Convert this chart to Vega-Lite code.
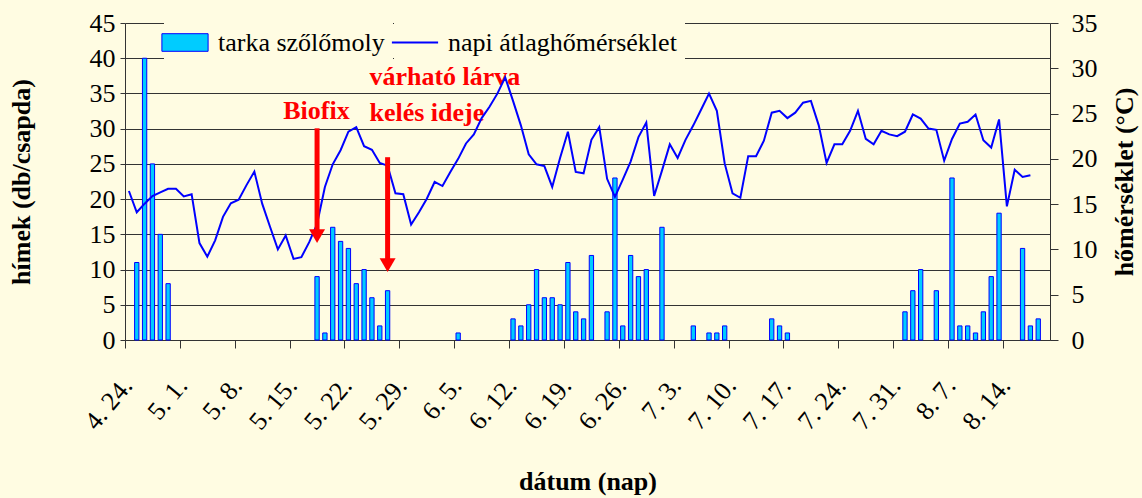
{
  "$schema": "https://vega.github.io/schema/vega-lite/v6.json",
  "width": 925,
  "height": 317,
  "autosize": {"type": "none"},
  "padding": {"left": 125, "top": 23, "right": 92, "bottom": 158},
  "background": "#fffce2",
  "config": {
    "font": "Liberation Serif",
    "view": {"stroke": null},
    "axis": {
      "labelFont": "Liberation Serif",
      "labelFontSize": 26,
      "labelColor": "#000000",
      "titleFont": "Liberation Serif",
      "titleFontSize": 26,
      "titleFontWeight": "bold",
      "titleColor": "#000000",
      "domainColor": "#333333",
      "tickColor": "#333333",
      "gridColor": "#333333",
      "gridOpacity": 1
    },
    "legend": {
      "orient": "none",
      "direction": "horizontal",
      "padding": 8,
      "fillColor": "#fffce2",
      "symbolSize": 484,
      "labelOffset": 20,
      "labelLimit": 0,
      "labelFont": "Liberation Serif",
      "labelFontSize": 26,
      "labelColor": "#000000"
    }
  },
  "datasets": {
    "main": [
      {"nap": "4. 24.", "t": 16.45},
      {"nap": "4. 25.", "h": 11, "t": 14.1},
      {"nap": "4. 26.", "h": 40, "t": 15.05},
      {"nap": "4. 27.", "h": 25, "t": 15.9},
      {"nap": "4. 28.", "h": 15, "t": 16.3},
      {"nap": "4. 29.", "h": 8, "t": 16.7},
      {"nap": "4. 30.", "t": 16.7},
      {"nap": "5. 1.", "t": 15.85},
      {"nap": "5. 2.", "t": 16.1},
      {"nap": "5. 3.", "t": 10.7},
      {"nap": "5. 4.", "t": 9.2},
      {"nap": "5. 5.", "t": 11.0},
      {"nap": "5. 6.", "t": 13.6},
      {"nap": "5. 7.", "t": 15.1},
      {"nap": "5. 8.", "t": 15.5},
      {"nap": "5. 9.", "t": 17.1},
      {"nap": "5. 10.", "t": 18.6},
      {"nap": "5. 11.", "t": 15.05},
      {"nap": "5. 12.", "t": 12.5},
      {"nap": "5. 13.", "t": 10.0},
      {"nap": "5. 14.", "t": 11.55},
      {"nap": "5. 15.", "t": 8.95},
      {"nap": "5. 16.", "t": 9.15},
      {"nap": "5. 17.", "t": 10.8},
      {"nap": "5. 18.", "h": 9, "t": 12.8},
      {"nap": "5. 19.", "h": 1, "t": 16.9},
      {"nap": "5. 20.", "h": 16, "t": 19.4},
      {"nap": "5. 21.", "h": 14, "t": 20.95},
      {"nap": "5. 22.", "h": 13, "t": 23.0},
      {"nap": "5. 23.", "h": 8, "t": 23.5},
      {"nap": "5. 24.", "h": 10, "t": 21.4},
      {"nap": "5. 25.", "h": 6, "t": 21.0},
      {"nap": "5. 26.", "h": 2, "t": 19.55},
      {"nap": "5. 27.", "h": 7, "t": 19.25},
      {"nap": "5. 28.", "t": 16.2},
      {"nap": "5. 29.", "t": 16.1},
      {"nap": "5. 30.", "t": 12.75},
      {"nap": "5. 31.", "t": 14.1},
      {"nap": "6. 1.", "t": 15.6},
      {"nap": "6. 2.", "t": 17.45},
      {"nap": "6. 3.", "t": 17.0},
      {"nap": "6. 4.", "t": 18.55},
      {"nap": "6. 5.", "h": 1, "t": 20.0},
      {"nap": "6. 6.", "t": 21.7},
      {"nap": "6. 7.", "t": 22.7},
      {"nap": "6. 8.", "t": 24.5},
      {"nap": "6. 9.", "t": 25.75},
      {"nap": "6. 10.", "t": 27.2},
      {"nap": "6. 11.", "t": 29.0},
      {"nap": "6. 12.", "h": 3, "t": 26.4},
      {"nap": "6. 13.", "h": 2, "t": 23.7},
      {"nap": "6. 14.", "h": 5, "t": 20.5},
      {"nap": "6. 15.", "h": 10, "t": 19.4},
      {"nap": "6. 16.", "h": 6, "t": 19.2},
      {"nap": "6. 17.", "h": 6, "t": 16.9},
      {"nap": "6. 18.", "h": 5, "t": 20.1},
      {"nap": "6. 19.", "h": 11, "t": 23.0},
      {"nap": "6. 20.", "h": 4, "t": 18.55},
      {"nap": "6. 21.", "h": 3, "t": 18.4},
      {"nap": "6. 22.", "h": 12, "t": 22.1},
      {"nap": "6. 23.", "t": 23.5},
      {"nap": "6. 24.", "h": 4, "t": 17.8},
      {"nap": "6. 25.", "h": 23, "t": 15.8},
      {"nap": "6. 26.", "h": 2, "t": 17.7},
      {"nap": "6. 27.", "h": 12, "t": 19.7},
      {"nap": "6. 28.", "h": 9, "t": 22.4},
      {"nap": "6. 29.", "h": 10, "t": 24.0},
      {"nap": "6. 30.", "t": 15.9},
      {"nap": "7. 1.", "h": 16, "t": 18.7},
      {"nap": "7. 2.", "t": 21.6},
      {"nap": "7. 3.", "t": 20.1},
      {"nap": "7. 4.", "t": 22.1},
      {"nap": "7. 5.", "h": 2, "t": 23.7},
      {"nap": "7. 6.", "t": 25.45},
      {"nap": "7. 7.", "h": 1, "t": 27.2},
      {"nap": "7. 8.", "h": 1, "t": 25.3},
      {"nap": "7. 9.", "h": 2, "t": 19.5},
      {"nap": "7. 10.", "t": 16.2},
      {"nap": "7. 11.", "t": 15.7},
      {"nap": "7. 12.", "t": 20.3},
      {"nap": "7. 13.", "t": 20.3},
      {"nap": "7. 14.", "t": 22.0},
      {"nap": "7. 15.", "h": 3, "t": 25.1},
      {"nap": "7. 16.", "h": 2, "t": 25.3},
      {"nap": "7. 17.", "h": 1, "t": 24.5},
      {"nap": "7. 18.", "t": 25.1},
      {"nap": "7. 19.", "t": 26.2},
      {"nap": "7. 20.", "t": 26.4},
      {"nap": "7. 21.", "t": 23.7},
      {"nap": "7. 22.", "t": 19.55},
      {"nap": "7. 23.", "t": 21.6},
      {"nap": "7. 24.", "t": 21.6},
      {"nap": "7. 25.", "t": 23.1},
      {"nap": "7. 26.", "t": 25.3},
      {"nap": "7. 27.", "t": 22.2},
      {"nap": "7. 28.", "t": 21.6},
      {"nap": "7. 29.", "t": 23.1},
      {"nap": "7. 30.", "t": 22.7},
      {"nap": "7. 31.", "t": 22.5},
      {"nap": "8. 1.", "h": 4, "t": 23.0},
      {"nap": "8. 2.", "h": 7, "t": 24.9},
      {"nap": "8. 3.", "h": 10, "t": 24.45},
      {"nap": "8. 4.", "t": 23.35},
      {"nap": "8. 5.", "h": 7, "t": 23.2},
      {"nap": "8. 6.", "t": 19.8},
      {"nap": "8. 7.", "h": 23, "t": 22.2},
      {"nap": "8. 8.", "h": 2, "t": 23.9},
      {"nap": "8. 9.", "h": 2, "t": 24.1},
      {"nap": "8. 10.", "h": 1, "t": 24.9},
      {"nap": "8. 11.", "h": 4, "t": 22.05},
      {"nap": "8. 12.", "h": 9, "t": 21.25},
      {"nap": "8. 13.", "h": 18, "t": 24.35},
      {"nap": "8. 14.", "t": 14.75},
      {"nap": "8. 15.", "t": 18.8},
      {"nap": "8. 16.", "h": 13, "t": 18.0},
      {"nap": "8. 17.", "h": 2, "t": 18.2},
      {"nap": "8. 18.", "h": 3},
      {"nap": "8. 19."}
    ],
    "arrows": [
      {"nap": "5. 18.", "top": 30.05, "end": 15.6, "head": 14.8},
      {"nap": "5. 27.", "top": 25.95, "end": 11.4, "head": 10.68}
    ],
    "labels": [
      {"nap": "5. 14.", "y": 31.33, "szoveg": "Biofix"},
      {"nap": "5. 25.", "y": 36.13, "szoveg": "várható lárva"},
      {"nap": "5. 25.", "y": 31.13, "szoveg": "kelés ideje"}
    ]
  },
  "layer": [
    {
      "data": {"name": "main"},
      "mark": {"type": "bar", "stroke": "#0000ff", "strokeWidth": 1},
      "encoding": {
        "x": {
          "field": "nap",
          "type": "ordinal",
          "scale": {
            "domain": ["4. 24.","4. 25.","4. 26.","4. 27.","4. 28.","4. 29.","4. 30.","5. 1.","5. 2.","5. 3.","5. 4.","5. 5.","5. 6.","5. 7.","5. 8.","5. 9.","5. 10.","5. 11.","5. 12.","5. 13.","5. 14.","5. 15.","5. 16.","5. 17.","5. 18.","5. 19.","5. 20.","5. 21.","5. 22.","5. 23.","5. 24.","5. 25.","5. 26.","5. 27.","5. 28.","5. 29.","5. 30.","5. 31.","6. 1.","6. 2.","6. 3.","6. 4.","6. 5.","6. 6.","6. 7.","6. 8.","6. 9.","6. 10.","6. 11.","6. 12.","6. 13.","6. 14.","6. 15.","6. 16.","6. 17.","6. 18.","6. 19.","6. 20.","6. 21.","6. 22.","6. 23.","6. 24.","6. 25.","6. 26.","6. 27.","6. 28.","6. 29.","6. 30.","7. 1.","7. 2.","7. 3.","7. 4.","7. 5.","7. 6.","7. 7.","7. 8.","7. 9.","7. 10.","7. 11.","7. 12.","7. 13.","7. 14.","7. 15.","7. 16.","7. 17.","7. 18.","7. 19.","7. 20.","7. 21.","7. 22.","7. 23.","7. 24.","7. 25.","7. 26.","7. 27.","7. 28.","7. 29.","7. 30.","7. 31.","8. 1.","8. 2.","8. 3.","8. 4.","8. 5.","8. 6.","8. 7.","8. 8.","8. 9.","8. 10.","8. 11.","8. 12.","8. 13.","8. 14.","8. 15.","8. 16.","8. 17.","8. 18.","8. 19."],
            "paddingInner": 0.45,
            "paddingOuter": 0.225
          },
          "axis": {
            "values": ["4. 24.","5. 1.","5. 8.","5. 15.","5. 22.","5. 29.","6. 5.","6. 12.","6. 19.","6. 26.","7. 3.","7. 10.","7. 17.","7. 24.","7. 31.","8. 7.","8. 14."],
            "bandPosition": 0,
            "tickOffset": -1.8,
            "labelAngle": -50,
            "labelAlign": "right",
            "labelBaseline": "middle",
            "labelPadding": 33,
            "tickSize": 8,
            "grid": false,
            "title": "dátum (nap)",
            "titleY": 141,
            "titleBaseline": "middle"
          }
        },
        "y": {
          "field": "h",
          "type": "quantitative",
          "scale": {"domain": [0, 45], "nice": false},
          "axis": {
            "values": [0, 5, 10, 15, 20, 25, 30, 35, 40, 45],
            "grid": true,
            "tickSize": 5,
            "labelPadding": 5,
            "title": "hímek (db/csapda)",
            "titlePadding": 55
          }
        },
        "color": {
          "datum": "tarka szőlőmoly",
          "type": "nominal",
          "scale": {"range": ["#00ccff"]},
          "legend": {
            "title": null,
            "legendX": 39,
            "legendY": -1.5,
            "symbolType": "M-2.1,-0.8H2.1V0.8H-2.1Z",
            "symbolStrokeColor": "#0000ff",
            "symbolStrokeWidth": 1,
            "symbolFillColor": "#00ccff",
            "symbolOpacity": 1
          }
        }
      }
    },
    {
      "data": {"name": "labels"},
      "mark": {"type": "text", "align": "left", "baseline": "alphabetic", "dx": -2.5, "font": "Liberation Serif", "fontSize": 26, "fontWeight": "bold", "color": "#ff0000"},
      "encoding": {
        "x": {"field": "nap", "type": "ordinal"},
        "y": {"field": "y", "type": "quantitative", "scale": {"domain": [0, 45], "nice": false}, "axis": null},
        "text": {"field": "szoveg"}
      }
    },
    {
      "data": {"name": "main"},
      "mark": {"type": "line", "strokeWidth": 2},
      "encoding": {
        "x": {"field": "nap", "type": "ordinal"},
        "y": {
          "field": "t",
          "type": "quantitative",
          "scale": {"domain": [0, 35], "nice": false},
          "axis": {
            "orient": "right",
            "values": [0, 5, 10, 15, 20, 25, 30, 35],
            "grid": false,
            "tickSize": 8,
            "labelPadding": 13,
            "title": "hőmérséklet (°C)",
            "titleAngle": 270,
            "titlePadding": 40
          }
        },
        "color": {
          "datum": "napi átlaghőmérséklet",
          "type": "nominal",
          "scale": {"range": ["#0000ff"]},
          "legend": {
            "title": null,
            "legendX": 269,
            "legendY": -1.5,
            "symbolType": "M-2.1,0H2.1",
            "symbolStrokeColor": "#0000ff",
            "symbolStrokeWidth": 2,
            "symbolFillColor": "transparent",
            "symbolOpacity": 1
          }
        }
      }
    },
    {
      "data": {"name": "arrows"},
      "mark": {"type": "rule", "strokeWidth": 5, "color": "#ff0000"},
      "encoding": {
        "x": {"field": "nap", "type": "ordinal"},
        "y": {"field": "top", "type": "quantitative", "scale": {"domain": [0, 45], "nice": false}, "axis": null},
        "y2": {"field": "end"}
      }
    },
    {
      "data": {"name": "arrows"},
      "mark": {"type": "point", "shape": "M-1,-0.8L1,-0.8L0,0.9Z", "size": 256, "filled": true, "fill": "#ff0000", "stroke": null, "opacity": 1},
      "encoding": {
        "x": {"field": "nap", "type": "ordinal"},
        "y": {"field": "head", "type": "quantitative", "scale": {"domain": [0, 45], "nice": false}, "axis": null}
      }
    }
  ],
  "resolve": {"scale": {"y": "independent", "color": "independent"}}
}
